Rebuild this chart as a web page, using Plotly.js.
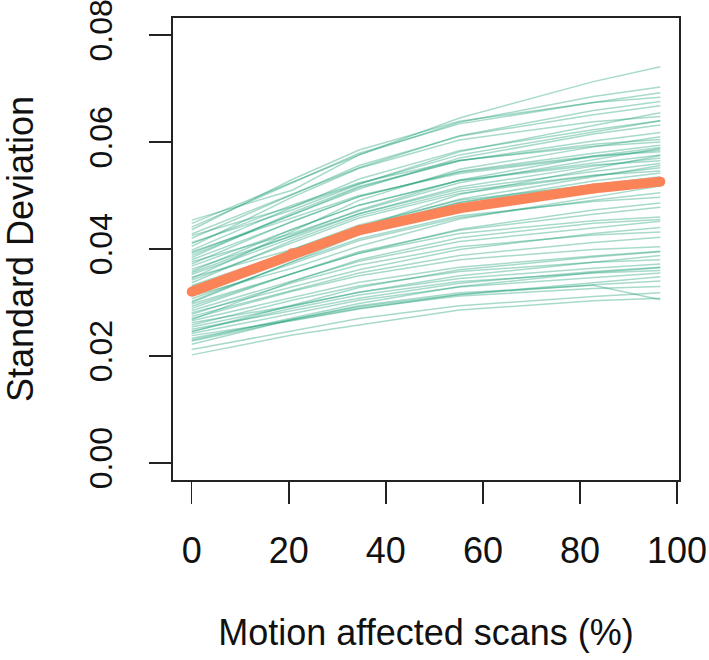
<!DOCTYPE html>
<html>
<head>
<meta charset="utf-8">
<script src="https://cdn.plot.ly/plotly-3.0.1.min.js"></script>
<style>html,body{margin:0;padding:0;background:#fff;}#chart{width:709px;height:660px;}</style>
</head>
<body>
<div id="chart"></div>
<script>
// Percentage of motion-affected scans at which SD was evaluated
const motionPct = [0, 20.69, 34.48, 55.17, 82.76, 96.55];

// Mean standard deviation across subjects (thick orange line)
const meanSD = [0.0320, 0.0392, 0.0435, 0.0476, 0.0513, 0.0526];

// Per-subject standard deviation curves (thin green lines)
const subjectSD = [
  [0.0454, 0.0510, 0.0576, 0.0645, 0.0713, 0.0741],
  [0.0448, 0.0525, 0.0576, 0.0637, 0.0685, 0.0703],
  [0.0441, 0.0524, 0.0579, 0.0634, 0.0674, 0.0692],
  [0.0436, 0.0530, 0.0585, 0.0639, 0.0674, 0.0684],
  [0.0428, 0.0502, 0.0552, 0.0612, 0.0659, 0.0676],
  [0.0420, 0.0502, 0.0556, 0.0611, 0.0651, 0.0668],
  [0.0412, 0.0473, 0.0521, 0.0582, 0.0631, 0.0655],
  [0.0405, 0.0497, 0.0551, 0.0604, 0.0638, 0.0648],
  [0.0398, 0.0478, 0.0531, 0.0584, 0.0623, 0.0640],
  [0.0392, 0.0464, 0.0512, 0.0570, 0.0615, 0.0632],
  [0.0388, 0.0464, 0.0515, 0.0565, 0.0602, 0.0618],
  [0.0384, 0.0468, 0.0517, 0.0565, 0.0596, 0.0605],
  [0.0380, 0.0451, 0.0498, 0.0545, 0.0579, 0.0594],
  [0.0376, 0.0429, 0.0471, 0.0524, 0.0567, 0.0588],
  [0.0372, 0.0452, 0.0498, 0.0544, 0.0574, 0.0582],
  [0.0368, 0.0437, 0.0482, 0.0528, 0.0561, 0.0576],
  [0.0362, 0.0424, 0.0466, 0.0516, 0.0555, 0.0570],
  [0.0358, 0.0437, 0.0482, 0.0528, 0.0557, 0.0565],
  [0.0352, 0.0421, 0.0466, 0.0512, 0.0545, 0.0560],
  [0.0347, 0.0399, 0.0441, 0.0493, 0.0535, 0.0556],
  [0.0342, 0.0411, 0.0458, 0.0504, 0.0537, 0.0552],
  [0.0337, 0.0416, 0.0462, 0.0508, 0.0538, 0.0546],
  [0.0332, 0.0395, 0.0437, 0.0487, 0.0527, 0.0542],
  [0.0326, 0.0395, 0.0441, 0.0487, 0.0520, 0.0535],
  [0.0320, 0.0399, 0.0445, 0.0491, 0.0520, 0.0528],
  [0.0316, 0.0384, 0.0429, 0.0475, 0.0508, 0.0522],
  [0.0312, 0.0364, 0.0405, 0.0456, 0.0497, 0.0518],
  [0.0307, 0.0372, 0.0416, 0.0459, 0.0491, 0.0505],
  [0.0302, 0.0376, 0.0419, 0.0462, 0.0489, 0.0497],
  [0.0297, 0.0354, 0.0392, 0.0437, 0.0473, 0.0486],
  [0.0293, 0.0354, 0.0395, 0.0435, 0.0465, 0.0478],
  [0.0289, 0.0354, 0.0392, 0.0429, 0.0453, 0.0460],
  [0.0285, 0.0340, 0.0377, 0.0414, 0.0440, 0.0452],
  [0.0281, 0.0329, 0.0361, 0.0399, 0.0429, 0.0440],
  [0.0278, 0.0337, 0.0370, 0.0404, 0.0426, 0.0432],
  [0.0274, 0.0323, 0.0355, 0.0388, 0.0412, 0.0422],
  [0.0270, 0.0321, 0.0350, 0.0380, 0.0399, 0.0404],
  [0.0266, 0.0309, 0.0338, 0.0366, 0.0387, 0.0396],
  [0.0262, 0.0294, 0.0319, 0.0350, 0.0375, 0.0388],
  [0.0258, 0.0304, 0.0331, 0.0358, 0.0375, 0.0380],
  [0.0254, 0.0293, 0.0319, 0.0345, 0.0364, 0.0372],
  [0.0250, 0.0285, 0.0308, 0.0336, 0.0358, 0.0366],
  [0.0246, 0.0289, 0.0314, 0.0339, 0.0355, 0.0360],
  [0.0242, 0.0279, 0.0304, 0.0329, 0.0347, 0.0355],
  [0.0238, 0.0266, 0.0288, 0.0315, 0.0337, 0.0348],
  [0.0233, 0.0268, 0.0292, 0.0315, 0.0333, 0.0340],
  [0.0228, 0.0267, 0.0289, 0.0312, 0.0326, 0.0330],
  [0.0222, 0.0268, 0.0294, 0.0318, 0.0332, 0.0305],
  [0.0212, 0.0247, 0.0270, 0.0294, 0.0311, 0.0318],
  [0.0202, 0.0239, 0.0258, 0.0286, 0.0303, 0.0308],
  [0.0410, 0.0482, 0.0524, 0.0566, 0.0592, 0.0600],
  [0.0395, 0.0458, 0.0500, 0.0541, 0.0572, 0.0585],
  [0.0355, 0.0426, 0.0473, 0.0529, 0.0574, 0.0590],
  [0.0330, 0.0391, 0.0440, 0.0502, 0.0550, 0.0575],
  [0.0300, 0.0376, 0.0427, 0.0477, 0.0514, 0.0530],
  [0.0268, 0.0339, 0.0380, 0.0421, 0.0448, 0.0455],
  [0.0245, 0.0295, 0.0328, 0.0361, 0.0385, 0.0395],
  [0.0230, 0.0271, 0.0298, 0.0330, 0.0356, 0.0365],
  [0.0345, 0.0432, 0.0491, 0.0549, 0.0591, 0.0610],
  [0.0425, 0.0479, 0.0522, 0.0576, 0.0619, 0.0640]
];

const xTicks = [0, 20, 40, 60, 80, 100];
const yTicks = [0, 0.02, 0.04, 0.06, 0.08];
const yTickText = ['0.00', '0.02', '0.04', '0.06', '0.08'];

const FONT = 'Liberation Sans, Arial, Helvetica, sans-serif';
const FS = 36;

const traces = subjectSD.map(vals => ({
  x: motionPct,
  y: vals,
  type: 'scatter',
  mode: 'lines',
  line: {color: 'rgba(27,158,119,0.38)', width: 1.5},
  hoverinfo: 'skip',
  showlegend: false
}));

traces.push({
  x: motionPct,
  y: meanSD,
  type: 'scatter',
  mode: 'lines+markers',
  line: {color: '#FA8458', width: 10},
  marker: {color: '#FA8458', size: 10},
  hoverinfo: 'skip',
  showlegend: false
});

const layout = {
  width: 709,
  height: 660,
  margin: {l: 173, r: 30, t: 18, b: 180, pad: 0},
  paper_bgcolor: '#ffffff',
  plot_bgcolor: '#ffffff',
  font: {family: FONT, size: FS, color: '#000'},
  xaxis: {
    range: [-3.86, 100.4],
    tickvals: xTicks,
    ticktext: xTicks.map(String),
    ticks: 'outside',
    ticklen: 22,
    tickwidth: 1.5,
    tickcolor: '#222',
    ticklabelstandoff: 16,
    ticklabeloverflow: 'allow',
    showline: true,
    mirror: true,
    linecolor: '#222',
    linewidth: 2,
    showgrid: false,
    zeroline: false,
    tickfont: {family: FONT, size: FS, color: '#111'},
    title: {text: 'Motion affected scans (%)', font: {family: FONT, size: FS, color: '#111'}, standoff: 50}
  },
  yaxis: {
    range: [-0.0032, 0.0832],
    tickvals: yTicks,
    ticktext: yTickText,
    tickangle: -90,
    ticks: 'outside',
    ticklen: 22,
    tickwidth: 1.5,
    tickcolor: '#222',
    ticklabelstandoff: 24,
    ticklabeloverflow: 'allow',
    showline: true,
    mirror: true,
    linecolor: '#222',
    linewidth: 2,
    showgrid: false,
    zeroline: false,
    tickfont: {family: FONT, size: 32, color: '#111'},
    title: {text: 'Standard Deviation', font: {family: FONT, size: FS, color: '#111'}, standoff: 54}
  }
};

Plotly.newPlot('chart', traces, layout, {staticPlot: true, displayModeBar: false});
</script>
</body>
</html>
